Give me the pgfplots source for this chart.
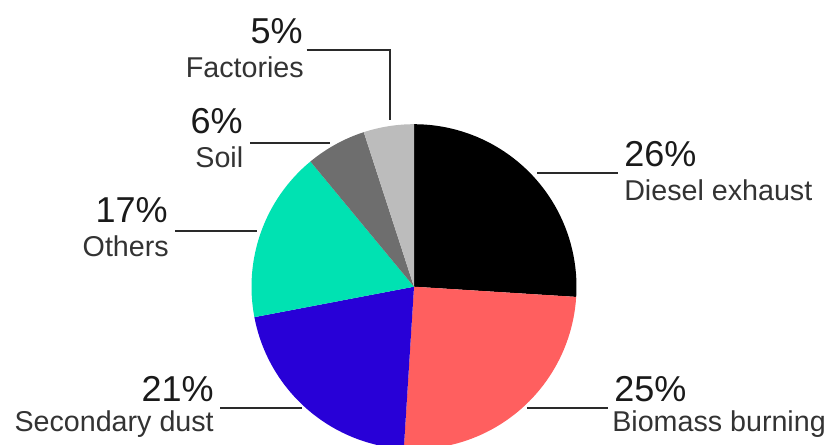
\documentclass[border=0pt]{standalone}
\usepackage{pgfplots}
\pgfplotsset{compat=1.18}
\usepackage{fontspec}
\setmainfont{Liberation Sans}
\definecolor{cDiesel}{HTML}{000000}
\definecolor{cBiomass}{HTML}{FF5F5F}
\definecolor{cSecondary}{HTML}{2800D7}
\definecolor{cOthers}{HTML}{00E2B2}
\definecolor{cSoil}{HTML}{6E6E6E}
\definecolor{cFactories}{HTML}{BCBCBC}
\definecolor{txt}{HTML}{1A1A1A}
\definecolor{lab}{HTML}{333333}
\definecolor{lead}{HTML}{2A2A2A}
\newcommand{\numfont}{\fontsize{27}{31}\selectfont}
\newcommand{\labfont}{\fontsize{21.5}{25}\selectfont}
\begin{document}
\begin{tikzpicture}
% shares (percent), clockwise from 12 o'clock
\def\vDiesel{26}
\def\vBiomass{25}
\def\vSecondary{21}
\def\vOthers{17}
\def\vSoil{6}
\def\vFactories{5}
\def\R{121.875pt}
\pgfmathsetmacro\aA{90}
\pgfmathsetmacro\aB{\aA-3.6*\vDiesel}
\pgfmathsetmacro\aC{\aB-3.6*\vBiomass}
\pgfmathsetmacro\aD{\aC-3.6*\vSecondary}
\pgfmathsetmacro\aE{\aD-3.6*\vOthers}
\pgfmathsetmacro\aF{\aE-3.6*\vSoil}
\pgfmathsetmacro\aG{\aF-3.6*\vFactories}
\begin{axis}[
  at={(0,0)}, anchor=origin,
  x=0.75pt, y=0.75pt,
  xmin=0, xmax=834, ymin=0, ymax=444,
  hide axis, clip=true,
]
\fill[cDiesel]    (axis cs:414,157.3) -- ++(\aA:\R) arc[start angle=\aA, end angle=\aB, radius=\R] -- cycle;
\fill[cBiomass]   (axis cs:414,157.3) -- ++(\aB:\R) arc[start angle=\aB, end angle=\aC, radius=\R] -- cycle;
\fill[cSecondary] (axis cs:414,157.3) -- ++(\aC:\R) arc[start angle=\aC, end angle=\aD, radius=\R] -- cycle;
\fill[cOthers]    (axis cs:414,157.3) -- ++(\aD:\R) arc[start angle=\aD, end angle=\aE, radius=\R] -- cycle;
\fill[cSoil]      (axis cs:414,157.3) -- ++(\aE:\R) arc[start angle=\aE, end angle=\aF, radius=\R] -- cycle;
\fill[cFactories] (axis cs:414,157.3) -- ++(\aF:\R) arc[start angle=\aF, end angle=\aG, radius=\R] -- cycle;

% leader lines
\draw[lead, line width=1.6pt] (axis cs:537,270.7) -- (axis cs:618,270.7);
\draw[lead, line width=1.6pt] (axis cs:527,35.7) -- (axis cs:608,35.7);
\draw[lead, line width=1.6pt] (axis cs:220,35.7) -- (axis cs:301.7,35.7);
\draw[lead, line width=1.6pt] (axis cs:175,213.3) -- (axis cs:256.7,213.3);
\draw[lead, line width=1.6pt] (axis cs:250,300.7) -- (axis cs:330,300.7);
\draw[lead, line width=1.6pt] (axis cs:306.7,394) -- (axis cs:390,394) -- (axis cs:390,324);

% labels
\node[anchor=base west, inner sep=0, text=txt, font=\numfont] at (axis cs:624,277.3) {26\%};
\node[anchor=base west, inner sep=0, text=lab, font=\labfont] at (axis cs:624,244) {Diesel exhaust};
\node[anchor=base west, inner sep=0, text=txt, font=\numfont] at (axis cs:614,42.3) {25\%};
\node[anchor=base west, inner sep=0, text=lab, font=\labfont] at (axis cs:612,12.3) {Biomass burning};
\node[anchor=base east, inner sep=0, text=txt, font=\numfont] at (axis cs:214,42.3) {21\%};
\node[anchor=base east, inner sep=0, text=lab, font=\labfont] at (axis cs:214,12.3) {Secondary dust};
\node[anchor=base east, inner sep=0, text=txt, font=\numfont] at (axis cs:168,221.3) {17\%};
\node[anchor=base east, inner sep=0, text=lab, font=\labfont] at (axis cs:169,188) {Others};
\node[anchor=base east, inner sep=0, text=txt, font=\numfont] at (axis cs:243,311) {6\%};
\node[anchor=base east, inner sep=0, text=lab, font=\labfont] at (axis cs:243.5,276.3) {Soil};
\node[anchor=base east, inner sep=0, text=txt, font=\numfont] at (axis cs:303,401) {5\%};
\node[anchor=base east, inner sep=0, text=lab, font=\labfont] at (axis cs:304,367) {Factories};
\end{axis}
\pgfresetboundingbox
\path (0,0) rectangle (625.5pt,333pt);
\end{tikzpicture}
\end{document}
